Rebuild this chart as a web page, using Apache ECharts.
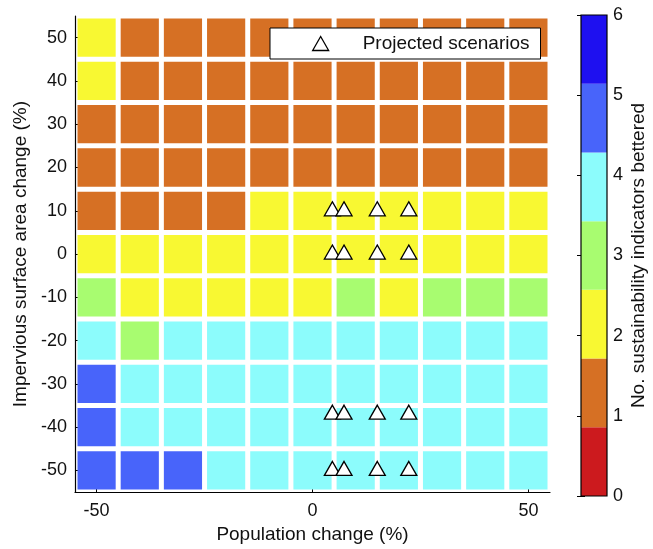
<!DOCTYPE html>
<html>
<head>
<meta charset="utf-8">
<script src="https://cdn.jsdelivr.net/npm/echarts@6/dist/echarts.min.js"></script>
<style>
  html, body { margin: 0; padding: 0; background: #fff; }
  #chart { width: 653px; height: 549px; }
</style>
</head>
<body>
<div id="chart"></div>
<script>
// Grid of scenario outcomes: population change (x) vs impervious surface area change (y)
const popChange = [-50, -40, -30, -20, -10, 0, 10, 20, 30, 40, 50];
const isaChange = [50, 40, 30, 20, 10, 0, -10, -20, -30, -40, -50];

// Number of sustainability indicators bettered, one row per isaChange value
const row50  = [2, 1, 1, 1, 1, 1, 1, 1, 1, 1, 1];
const row40  = [2, 1, 1, 1, 1, 1, 1, 1, 1, 1, 1];
const row30  = [1, 1, 1, 1, 1, 1, 1, 1, 1, 1, 1];
const row20  = [1, 1, 1, 1, 1, 1, 1, 1, 1, 1, 1];
const row10  = [1, 1, 1, 1, 2, 2, 2, 2, 2, 2, 2];
const row0   = [2, 2, 2, 2, 2, 2, 2, 2, 2, 2, 2];
const rowM10 = [3, 2, 2, 2, 2, 2, 3, 2, 3, 3, 3];
const rowM20 = [4, 3, 4, 4, 4, 4, 4, 4, 4, 4, 4];
const rowM30 = [5, 4, 4, 4, 4, 4, 4, 4, 4, 4, 4];
const rowM40 = [5, 4, 4, 4, 4, 4, 4, 4, 4, 4, 4];
const rowM50 = [5, 5, 5, 4, 4, 4, 4, 4, 4, 4, 4];
const countRows = [row50, row40, row30, row20, row10, row0, rowM10, rowM20, rowM30, rowM40, rowM50];

// Projected scenarios
const scenPopChange = [4.6, 7.3, 15, 22.3];
const scenIsaChange = [10, 0, -37, -50];

// Tick labels
const xTicks = [-50, 0, 50];
const yTicks = [-50, -40, -30, -20, -10, 0, 10, 20, 30, 40, 50];

// Discrete colormap, one colour per count 0..6
const palette = ['#CC1A1E', '#D67024', '#F8F832', '#A8FC70', '#8CFCFC', '#4864FA', '#1E10F0'];

const cellData = [];
countRows.forEach((row, r) => {
  row.forEach((v, c) => cellData.push([popChange[c], isaChange[r], v]));
});

const scenData = [];
scenIsaChange.forEach(y => scenPopChange.forEach(x => scenData.push([x, y])));

// colour bar bands spanning 0..6
const cbMin = 0, cbMax = 6;
const bandH = (cbMax - cbMin) / palette.length;
const cbData = palette.map((col, i) => [i, cbMin + i * bandH, cbMin + (i + 1) * bandH]);

const FONT = 'Liberation Sans, Arial, Helvetica, sans-serif';
const TXT = '#111';
const TICK_FS = 18;
const NAME_FS = 19;
const cellStep = 10;
const cellGap = 5;

const chart = echarts.init(document.getElementById('chart'), null, { renderer: 'canvas' });

chart.setOption({
  animation: false,
  backgroundColor: '#fff',
  textStyle: { fontFamily: FONT, color: TXT },
  legend: {
    data: [{ name: 'Projected scenarios', icon: 'triangle' }],
    left: 270, top: 28,
    orient: 'horizontal',
    backgroundColor: '#fff',
    borderColor: '#000', borderWidth: 1,
    padding: [6, 11, 6, 42],
    itemWidth: 16, itemHeight: 14, itemGap: 5,
    itemStyle: { color: '#fff', borderColor: '#000', borderWidth: 1.3 },
    textStyle: { fontFamily: FONT, fontSize: NAME_FS, color: TXT, padding: [0, 0, 0, 29] },
    z: 20
  },
  grid: [
    { left: 75, top: 16, width: 475, height: 478, containLabel: false },
    { left: 581, top: 15, width: 26, height: 481, containLabel: false }
  ],
  xAxis: [
    {
      gridIndex: 0, type: 'value', min: -55, max: 55,
      name: 'Population change (%)', nameLocation: 'middle', nameGap: 29,
      nameTextStyle: { fontFamily: FONT, fontSize: NAME_FS, color: TXT },
      axisLine: { show: true, onZero: false, lineStyle: { color: '#000', width: 1.2 } },
      axisTick: { show: true, inside: true, length: 5, customValues: xTicks, lineStyle: { color: '#000' } },
      axisLabel: { show: true, customValues: xTicks, fontFamily: FONT, fontSize: TICK_FS, color: TXT, margin: 10 },
      splitLine: { show: false }
    },
    {
      gridIndex: 1, type: 'value', min: 0, max: 1,
      show: false
    }
  ],
  yAxis: [
    {
      gridIndex: 0, type: 'value', min: -55, max: 55,
      name: 'Impervious surface area change (%)', nameLocation: 'middle', nameGap: 45,
      nameTextStyle: { fontFamily: FONT, fontSize: NAME_FS, color: TXT },
      axisLine: { show: true, onZero: false, lineStyle: { color: '#000', width: 1.2 } },
      axisTick: { show: true, inside: true, length: 5, customValues: yTicks, lineStyle: { color: '#000' } },
      axisLabel: { show: true, customValues: yTicks, fontFamily: FONT, fontSize: TICK_FS, color: TXT, margin: 8 },
      splitLine: { show: false }
    },
    {
      gridIndex: 1, type: 'value', min: cbMin, max: cbMax, interval: 1, position: 'right',
      name: 'No. sustainability indicators bettered', nameLocation: 'middle', nameGap: 22,
      nameRotate: 90,
      nameTextStyle: { fontFamily: FONT, fontSize: NAME_FS, color: TXT, verticalAlign: 'top' },
      axisLine: { show: false },
      axisTick: { show: true, inside: true, length: 4, lineStyle: { color: '#000' } },
      axisLabel: { show: true, fontFamily: FONT, fontSize: TICK_FS, color: TXT, margin: 6 },
      splitLine: { show: false }
    },
    {
      gridIndex: 1, type: 'value', min: cbMin, max: cbMax, interval: 1, position: 'left',
      axisLine: { show: false },
      axisTick: { show: true, inside: true, length: 4, lineStyle: { color: '#000' } },
      axisLabel: { show: false },
      splitLine: { show: false }
    }
  ],
  series: [
    {
      type: 'custom',
      name: 'cells',
      xAxisIndex: 0, yAxisIndex: 0,
      data: cellData,
      z: 3,
      renderItem: function (params, api) {
        const c = api.coord([api.value(0), api.value(1)]);
        const s = api.size([cellStep, cellStep]);
        return {
          type: 'rect',
          shape: {
            x: c[0] - s[0] / 2 + cellGap / 2,
            y: c[1] - s[1] / 2 + cellGap / 2,
            width: s[0] - cellGap,
            height: s[1] - cellGap
          },
          style: { fill: palette[api.value(2)] }
        };
      }
    },
    {
      type: 'scatter',
      name: 'Projected scenarios',
      xAxisIndex: 0, yAxisIndex: 0,
      data: scenData,
      symbol: 'triangle',
      symbolSize: [16, 14],
      symbolOffset: [0, -2],
      itemStyle: { color: '#fff', borderColor: '#000', borderWidth: 1.3, opacity: 1 },
      z: 5
    },
    {
      type: 'custom',
      name: 'colorbar',
      xAxisIndex: 1, yAxisIndex: 1,
      data: cbData,
      z: 3,
      renderItem: function (params, api) {
        const lo = api.coord([0, api.value(1)]);
        const hi = api.coord([1, api.value(2)]);
        return {
          type: 'rect',
          shape: { x: lo[0], y: hi[1], width: hi[0] - lo[0], height: lo[1] - hi[1] },
          style: { fill: palette[api.value(0)] }
        };
      }
    },
    {
      type: 'custom',
      name: 'colorbarFrame',
      xAxisIndex: 1, yAxisIndex: 1,
      data: [[0, cbMin, 1, cbMax]],
      z: 6,
      renderItem: function (params, api) {
        const lo = api.coord([api.value(0), api.value(1)]);
        const hi = api.coord([api.value(2), api.value(3)]);
        return {
          type: 'rect',
          shape: { x: lo[0], y: hi[1], width: hi[0] - lo[0], height: lo[1] - hi[1] },
          style: { fill: 'none', stroke: '#000', lineWidth: 1.2 }
        };
      }
    }
  ]
});
</script>
</body>
</html>
